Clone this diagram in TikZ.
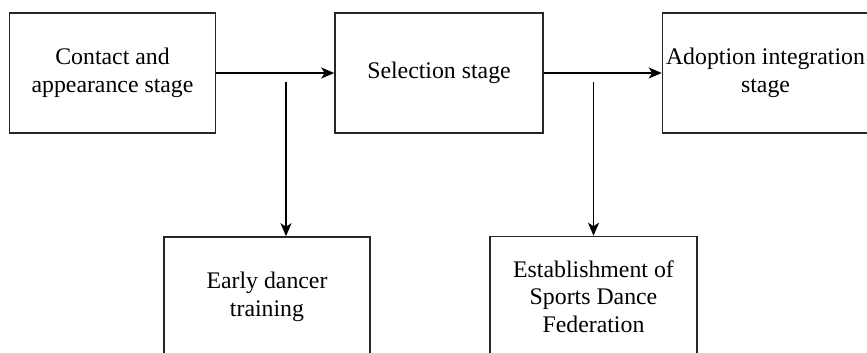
\documentclass[tikz,border=0pt]{standalone}
\usepackage{fontspec}
\setmainfont{Liberation Serif}
\usetikzlibrary{arrows.meta}
\begin{document}
\begin{tikzpicture}[x=1pt,y=-1pt,
  stagebox/.style={draw=black!85,line width=1.6pt,minimum width=206pt,minimum height=120pt,
    inner sep=0pt,align=center,font=\rmfamily\fontsize{23.8}{27.5}\selectfont},
  flow/.style={line width=1.6pt,-{Stealth[length=13pt,width=11pt,inset=3.5pt]}}]
\fill[white] (0,0) rectangle (867,353);
\useasboundingbox (0,0) rectangle (867,353);
\node[stagebox] (a) at (112.5,73) {Contact and\\appearance stage};
\node[stagebox,minimum width=208pt] (b) at (439,73) {Selection stage};
\node[stagebox,minimum width=206pt] (c) at (765.5,73) {Adoption integration\\stage};
\node[stagebox] (d) at (267,297) {Early dancer\\training};
\node[stagebox,minimum width=207pt] (e) at (593.5,296.5) {Establishment of\\Sports Dance\\Federation};
\draw[flow] (a.east) -- (b.west);
\draw[flow] (b.east) -- (c.west);
\coordinate (s1) at (286,82);
\coordinate (s2) at (593.5,82);
\draw[flow] (s1) -- (s1 |- d.north);
\draw[flow] (s2) -- (e.north);
\end{tikzpicture}
\end{document}
